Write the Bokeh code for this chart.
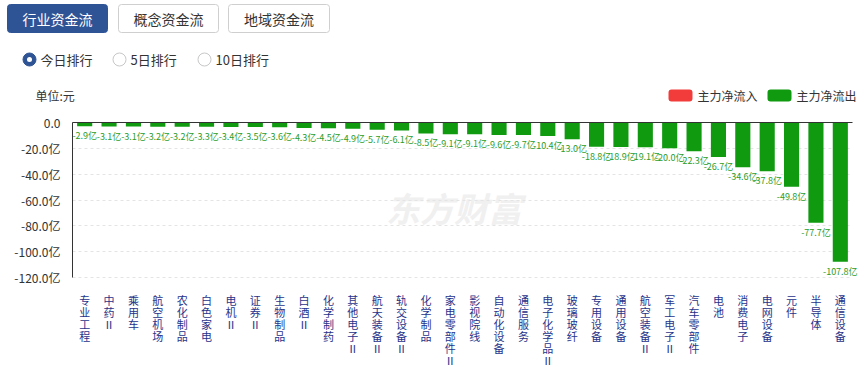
from bokeh.plotting import figure
from bokeh.models import (Range1d, FixedTicker, ColumnDataSource, LinearAxis, Grid,
                          BoxAnnotation)
from bokeh.core.properties import value
from bokeh.embed import file_html
from bokeh.resources import INLINE

# 行业主力资金净流出（亿元）
industries = ["专业工程", "中药Ⅱ", "乘用车", "航空机场", "农化制品", "白色家电", "电机Ⅱ", "证券Ⅱ",
              "生物制品", "白酒Ⅱ", "化学制药", "其他电子Ⅱ", "航天装备Ⅱ", "轨交设备Ⅱ", "化学制品",
              "家电零部件Ⅱ", "影视院线", "自动化设备", "通信服务", "电子化学品Ⅱ", "玻璃玻纤", "专用设备",
              "通用设备", "航空装备Ⅱ", "军工电子Ⅱ", "汽车零部件", "电池", "消费电子", "电网设备",
              "元件", "半导体", "通信设备"]
net_flow = [-2.9, -3.1, -3.1, -3.2, -3.2, -3.3, -3.4, -3.5, -3.6, -4.3, -4.5, -4.9, -5.7, -6.1,
            -8.5, -9.1, -9.1, -9.6, -9.7, -10.4, -13.0, -18.8, -18.9, -19.1, -20.0, -22.3, -26.7,
            -34.6, -37.8, -49.8, -77.7, -107.8]
y_ticks = [0, -20, -40, -60, -80, -100, -120]
y_tick_labels = ["0.0", "-20.0亿", "-40.0亿", "-60.0亿", "-80.0亿", "-100.0亿", "-120.0亿"]
tab_names = ["行业资金流", "概念资金流", "地域资金流"]
rank_names = ["今日排行", "5日排行", "10日排行"]
legend_names = ["主力净流入", "主力净流出"]
unit_text = "单位:元"
watermark = "东方财富"

FONT_NAME = "Noto Sans CJK SC"
FONT = value(FONT_NAME)
GREEN = "#0f9a0f"
LABEL_GREEN = "#2a9d2a"
RED = "#f23b3b"
NAVY = "#27338a"
TAB_BLUE = "#2f5496"
TEXT = "#333333"

# page geometry (pixels); the bar area spans FRAME_* and the header sits above it
WIDTH, HEIGHT = 868, 367
FRAME_LEFT, FRAME_RIGHT = 72, 852
FRAME_TOP, FRAME_BOTTOM = 122, 277
Y_MIN, Y_MAX = -120, 0
N = len(industries)

# one unit per industry along x; value scale along y, both extended to the page edges
x_per_px = N / (FRAME_RIGHT - FRAME_LEFT)
y_per_px = (Y_MAX - Y_MIN) / (FRAME_BOTTOM - FRAME_TOP)
x_range = Range1d(-FRAME_LEFT * x_per_px, N + (WIDTH - FRAME_RIGHT) * x_per_px)
y_range = Range1d(Y_MIN - (HEIGHT - FRAME_BOTTOM) * y_per_px, Y_MAX + FRAME_TOP * y_per_px)

p = figure(width=WIDTH, height=HEIGHT, x_range=x_range, y_range=y_range,
           x_axis_type=None, y_axis_type=None, toolbar_location=None,
           output_backend="svg", min_border=0, outline_line_color=None)
p.extra_x_ranges = {"px": Range1d(0, WIDTH)}
p.extra_y_ranges = {"px": Range1d(HEIGHT, 0)}

centers = [i + 0.5 for i in range(N)]
# category labels are written top-to-bottom, one character per line
stacked = ["\n".join(name) for name in industries]

src = ColumnDataSource(dict(
    x=centers,
    val=net_flow,
    label=[f"{v:.1f}亿" for v in net_flow],
))

# ---- watermark, grid, bars, value labels ----
p.text(x=[N / 2 - 0.35], y=[-66], text=[watermark], text_align="center",
       text_baseline="middle", text_font=FONT, text_font_size="34px",
       text_font_style="bold italic", text_color="#f0f0f0", level="underlay")

p.add_layout(Grid(dimension=1, ticker=FixedTicker(ticks=y_ticks), cross_bounds=(0, N),
                  grid_line_color="#e4e4e4", grid_line_dash="3 3"))

p.vbar(x="x", top=0, bottom="val", width=0.62, source=src, fill_color=GREEN, line_color=None)
p.text(x="x", y="val", text="label", source=src, y_offset=3, text_align="center",
       text_baseline="top", text_font=FONT, text_font_size="9px", text_color=LABEL_GREEN)

# ---- axes ----
yaxis = LinearAxis(fixed_location=0, bounds=(Y_MIN, Y_MAX), ticker=FixedTicker(ticks=y_ticks),
                   major_label_overrides={t: s for t, s in zip(y_ticks, y_tick_labels)},
                   axis_line_color="#333333", major_tick_line_color=None,
                   minor_tick_line_color=None, major_label_standoff=6,
                   major_label_text_font=FONT_NAME, major_label_text_font_size="12px",
                   major_label_text_color=TEXT)
p.add_layout(yaxis, "left")

zero_axis = LinearAxis(fixed_location=0, bounds=(0, N), ticker=FixedTicker(ticks=[]),
                       axis_line_color="#333333", major_tick_line_color=None,
                       minor_tick_line_color=None)
p.add_layout(zero_axis, "below")

xaxis = LinearAxis(fixed_location=Y_MIN, ticker=FixedTicker(ticks=centers),
                   major_label_overrides=dict(zip(centers, stacked)),
                   axis_line_color=None, major_tick_line_color=None,
                   minor_tick_line_color=None, major_label_standoff=8,
                   major_label_text_font=FONT_NAME, major_label_text_font_size="11px",
                   major_label_text_line_height=0.76, major_label_text_color=NAVY)
p.add_layout(xaxis, "below")


# ---- header: tabs, ranking switch, unit and legend (pixel coordinates) ----
def box(x0, x1, y0, y1, fill, line, radius):
    p.add_layout(BoxAnnotation(left=x0, right=x1, top=y0, bottom=y1,
                               x_range_name="px", y_range_name="px", level="underlay",
                               fill_color=fill, fill_alpha=1,
                               line_color=line, line_alpha=1 if line else 0,
                               line_width=1, border_radius=radius))


def label(xs, ys, texts, size, colors, align="left"):
    p.text(x=xs, y=ys, text=texts, x_range_name="px", y_range_name="px",
           text_align=align, text_baseline="middle", text_font=FONT,
           text_font_size=size, text_color=colors)


tab_x0 = [7, 118, 228]
tab_x1 = [107, 218, 329]
for i in range(len(tab_names)):
    active = i == 0
    box(tab_x0[i], tab_x1[i], 4, 32, TAB_BLUE if active else "white",
        TAB_BLUE if active else "#cfcfcf", 3)
label([(a + b) / 2 for a, b in zip(tab_x0, tab_x1)], [18] * 3, tab_names, "14px",
      ["white", TEXT, TEXT], align="center")

radio_x = [29, 119, 204]
p.scatter(x=radio_x, y=[59] * 3, size=13, x_range_name="px", y_range_name="px",
          fill_color=[TAB_BLUE, "white", "white"],
          line_color=[TAB_BLUE, "#c8c8c8", "#c8c8c8"], line_width=1)
p.scatter(x=radio_x[:1], y=[59], size=5, x_range_name="px", y_range_name="px",
          fill_color="white", line_color=None)
label([x + 11 for x in radio_x], [59] * 3, rank_names, "13px", TEXT)

label([35], [95], [unit_text], "12px", TEXT)

legend_x = [668, 767]
for x0, color in zip(legend_x, [RED, GREEN]):
    box(x0, x0 + 24, 89, 101, color, None, 3)
label([x + 29 for x in legend_x], [95, 95], legend_names, "12px", TEXT)

open("out.html", "w").write(file_html(p, INLINE))
